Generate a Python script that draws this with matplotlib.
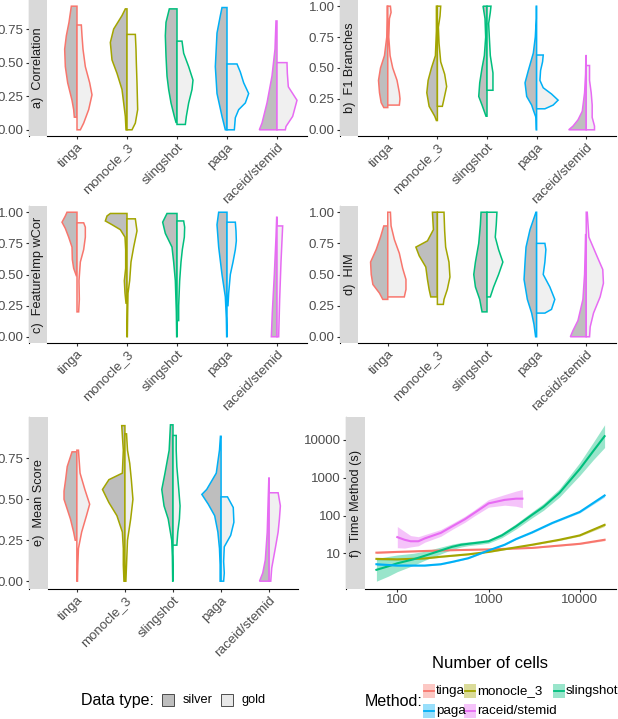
import matplotlib
matplotlib.use("Agg")
import matplotlib.pyplot as plt
import numpy as np
from matplotlib.patches import Rectangle
from matplotlib.lines import Line2D

plt.rcParams['font.family'] = ['Liberation Sans', 'DejaVu Sans']

W, H = 618, 719

methods = ['tinga', 'monocle_3', 'slingshot', 'paga', 'raceid/stemid']
colors = ['#F8766D', '#A3A500', '#00BF7D', '#00B0F6', '#E76BF3']
SILVER_FILL = '#BEBEBE'
GOLD_FILL = '#F0F0F0'

# Violin half profiles: (y values, half-widths in 1/150 of a category)
CORR_SILVER = [
    ([0.094, 0.15, 0.22, 0.35, 0.47, 0.6, 0.7, 0.8, 0.92], [8, 10, 15, 28, 35, 37, 32, 24, 17]),
    ([0, 0.1, 0.2, 0.3, 0.42, 0.52, 0.65, 0.75, 0.85, 0.9], [3, 5, 10, 15, 30, 45, 50, 40, 15, 5]),
    ([0.055, 0.1, 0.2, 0.3, 0.4, 0.55, 0.7, 0.8, 0.9], [3, 8, 18, 25, 30, 33, 35, 33, 23]),
    ([0, 0.1, 0.27, 0.47, 0.72, 0.85, 0.91], [5, 15, 30, 35, 30, 20, 15]),
    ([0, 0.05, 0.2, 0.4, 0.6, 0.81], [53, 45, 30, 15, 6, 3]),
]
CORR_GOLD = [
    ([0, 0.05, 0.15, 0.26, 0.35, 0.47, 0.6, 0.7, 0.78], [10, 20, 35, 45, 38, 25, 18, 15, 13]),
    ([0, 0.05, 0.15, 0.35, 0.5, 0.6, 0.71], [15, 25, 32, 30, 28, 27, 25]),
    ([0.04, 0.1, 0.2, 0.3, 0.37, 0.47, 0.57, 0.66], [25, 28, 35, 45, 48, 35, 20, 15]),
    ([0, 0.09, 0.15, 0.2, 0.27, 0.35, 0.43, 0.49], [22, 25, 35, 55, 65, 50, 40, 30]),
    ([0, 0.025, 0.1, 0.22, 0.32, 0.42, 0.5], [25, 27, 47, 60, 34, 31, 30]),
]
F1_SILVER = [
    ([0.18, 0.22, 0.3, 0.4, 0.5, 0.6, 0.75, 0.9, 1.0], [12, 20, 25, 28, 22, 10, 3, 2, 2]),
    ([0.075, 0.11, 0.19, 0.3, 0.4, 0.5, 0.6, 0.8, 1.0], [3, 8, 25, 32, 28, 18, 6, 3, 3]),
    ([0.11, 0.2, 0.27, 0.38, 0.5, 0.6, 0.75, 0.9, 1.0], [3, 15, 25, 22, 15, 8, 4, 6, 12]),
    ([0, 0.1, 0.16, 0.2, 0.27, 0.38, 0.48, 0.62, 0.75, 0.9, 1.0], [1, 2, 10, 15, 30, 35, 25, 10, 4, 1, 1]),
    ([0, 0.03, 0.08, 0.15, 0.3, 0.45, 0.6], [53, 40, 25, 12, 5, 2, 1]),
]
F1_GOLD = [
    ([0.2, 0.25, 0.3, 0.4, 0.5, 0.6, 0.75, 0.9, 0.95, 1.0], [35, 37, 35, 28, 15, 7, 3, 5, 10, 8]),
    ([0.19, 0.25, 0.35, 0.45, 0.55, 0.7, 0.83, 0.92, 1.0], [15, 20, 28, 22, 10, 5, 3, 8, 10]),
    ([0.32, 0.38, 0.46, 0.6, 0.75, 0.86, 0.95, 1.0], [18, 18, 18, 10, 7, 5, 10, 12]),
    ([0.17, 0.2, 0.24, 0.29, 0.34, 0.4, 0.48, 0.55, 0.605], [25, 50, 65, 45, 20, 10, 12, 18, 20]),
    ([0, 0.03, 0.1, 0.2, 0.3, 0.4, 0.52], [25, 25, 18, 18, 15, 10, 10]),
]
FI_SILVER = [
    ([0.49, 0.55, 0.62, 0.72, 0.8, 0.87, 0.92, 0.97, 1.0], [2, 10, 14, 15, 25, 35, 45, 35, 30]),
    ([0.27, 0.35, 0.45, 0.55, 0.7, 0.8, 0.86, 0.9, 0.93, 0.97, 0.99], [3, 6, 8, 4, 4, 6, 20, 45, 65, 60, 50]),
    ([0, 0.2, 0.45, 0.6, 0.72, 0.83, 0.92, 0.99], [1, 2, 5, 10, 15, 35, 43, 30]),
    ([0, 0.15, 0.32, 0.5, 0.72, 0.9, 1.0], [1, 2, 5, 15, 25, 30, 25]),
    ([0, 0.2, 0.5, 0.8, 0.96], [17, 14, 8, 3, 1]),
]
FI_GOLD = [
    ([0.2, 0.3, 0.45, 0.6, 0.7, 0.8, 0.88, 0.915], [5, 7, 6, 10, 20, 25, 25, 20]),
    ([0, 0.2, 0.35, 0.45, 0.6, 0.72, 0.85, 0.947], [1, 2, 3, 8, 12, 20, 30, 25]),
    ([0.13, 0.25, 0.45, 0.6, 0.7, 0.8, 0.88, 0.93], [5, 5, 8, 12, 16, 22, 23, 20]),
    ([0.25, 0.35, 0.5, 0.6, 0.7, 0.77, 0.85, 0.92], [3, 5, 10, 18, 25, 28, 27, 25]),
    ([0, 0.3, 0.6, 0.89], [5, 8, 12, 17]),
]
HIM_SILVER = [
    ([0.3, 0.35, 0.42, 0.5, 0.6, 0.7, 0.8, 0.89], [15, 25, 45, 50, 52, 35, 22, 12]),
    ([0.32, 0.38, 0.46, 0.56, 0.65, 0.72, 0.77, 0.86, 1.0], [20, 25, 30, 35, 55, 65, 30, 12, 15]),
    ([0.2, 0.3, 0.4, 0.5, 0.6, 0.75, 0.9, 1.0], [15, 22, 35, 40, 35, 25, 20, 18]),
    ([0, 0.1, 0.19, 0.3, 0.46, 0.6, 0.72, 0.86, 1.0], [3, 8, 15, 28, 38, 35, 32, 20, 2]),
    ([0, 0.05, 0.13, 0.3, 0.5, 0.7, 0.82], [48, 40, 25, 10, 5, 3, 2]),
]
HIM_GOLD = [
    ([0.32, 0.38, 0.46, 0.55, 0.67, 0.78, 0.89, 1.0], [50, 55, 55, 45, 35, 20, 10, 8]),
    ([0.26, 0.3, 0.38, 0.48, 0.6, 0.72, 0.85, 1.0], [18, 20, 30, 38, 35, 25, 22, 20]),
    ([0.32, 0.4, 0.5, 0.6, 0.7, 0.8, 0.9, 1.0], [10, 20, 35, 48, 35, 25, 28, 30]),
    ([0.19, 0.22, 0.3, 0.4, 0.5, 0.6, 0.7, 0.75], [25, 45, 55, 40, 20, 25, 28, 25]),
    ([0, 0.08, 0.19, 0.32, 0.43, 0.54, 0.65, 0.8, 1.0], [10, 12, 22, 42, 52, 50, 32, 8, 3]),
]
MEAN_SILVER = [
    ([0.25, 0.3, 0.38, 0.44, 0.5, 0.55, 0.62, 0.7, 0.79], [5, 10, 20, 30, 40, 40, 35, 30, 15]),
    ([0, 0.1, 0.2, 0.3, 0.4, 0.48, 0.56, 0.62, 0.66, 0.8, 0.95], [3, 5, 5, 8, 25, 50, 70, 50, 8, 5, 10]),
    ([0, 0.15, 0.25, 0.38, 0.46, 0.56, 0.66, 0.8, 0.955], [1, 2, 4, 15, 28, 35, 25, 12, 8]),
    ([0, 0.1, 0.2, 0.3, 0.4, 0.47, 0.53, 0.56, 0.66, 0.8, 0.885], [3, 3, 5, 10, 20, 40, 60, 45, 15, 5, 2]),
    ([0, 0.05, 0.13, 0.3, 0.5, 0.63], [30, 20, 12, 6, 3, 1]),
]
MEAN_GOLD = [
    ([0, 0.1, 0.2, 0.3, 0.4, 0.47, 0.56, 0.66, 0.8], [2, 3, 5, 15, 30, 40, 25, 10, 5]),
    ([0, 0.1, 0.25, 0.38, 0.5, 0.62, 0.72, 0.8, 0.9], [3, 5, 8, 18, 25, 20, 15, 8, 5]),
    ([0.22, 0.3, 0.38, 0.46, 0.56, 0.7, 0.8, 0.89], [12, 15, 20, 22, 18, 12, 10, 10]),
    ([0, 0.05, 0.12, 0.21, 0.28, 0.36, 0.45, 0.515], [8, 10, 8, 10, 30, 40, 38, 20]),
    ([0, 0.08, 0.21, 0.3, 0.38, 0.46, 0.54], [5, 8, 20, 28, 32, 35, 28]),
]

# Time panel: smoothed curves (cells, seconds) and ribbon half-width (log10 units)
TIME_X = {
    'tinga': [59, 100, 300, 1000, 3000, 10000, 18700],
    'monocle_3': [59, 100, 200, 300, 600, 1000, 2000, 3000, 6000, 10000, 18700],
    'slingshot': [59, 80, 100, 150, 200, 300, 400, 500, 600, 800, 1000, 1400, 2000, 3000,
                  4000, 6000, 10000, 14000, 18700],
    'paga': [59, 100, 200, 300, 400, 600, 1000, 1500, 2000, 3000, 5000, 10000, 18700],
    'raceid/stemid': [100, 120, 140, 170, 200, 300, 400, 550, 700, 1000, 1500, 2000, 2350],
}
TIME_Y = {
    'tinga': [10.5, 11, 12, 12.8, 14, 18, 23],
    'monocle_3': [7.2, 7, 7.4, 8.2, 9.5, 11, 14.5, 17, 23, 30, 57],
    'slingshot': [3.7, 4.6, 5.5, 7, 8.7, 12, 15, 17, 18, 19.5, 21, 30, 52, 105,
                  170, 400, 1700, 5000, 12500],
    'paga': [5.2, 4.8, 4.8, 5.2, 6, 7.5, 12, 17, 24, 36, 64, 125, 340],
    'raceid/stemid': [27, 23, 21, 21, 25, 35, 52, 80, 118, 210, 260, 280, 280],
}
TIME_SE = {
    'tinga': [0.02, 0.015, 0.01, 0.01, 0.01, 0.015, 0.025],
    'monocle_3': [0.03, 0.02, 0.015, 0.015, 0.015, 0.015, 0.015, 0.015, 0.02, 0.02, 0.04],
    'slingshot': [0.3, 0.26, 0.22, 0.16, 0.12, 0.09, 0.07, 0.06, 0.05, 0.05, 0.05, 0.06,
                  0.07, 0.08, 0.09, 0.11, 0.17, 0.23, 0.3],
    'paga': [0.03, 0.02, 0.015, 0.015, 0.015, 0.015, 0.015, 0.015, 0.015, 0.02, 0.02,
             0.025, 0.04],
    'raceid/stemid': [0.28, 0.22, 0.15, 0.12, 0.1, 0.09, 0.08, 0.08, 0.08, 0.1, 0.14,
                      0.2, 0.24],
}

WSCALE = 1 / 150.0
TICK_COLOR = '#4D4D4D'


def fig_rect(l, t, r, b):
    return [l / W, 1 - b / H, (r - l) / W, (b - t) / H]


def fig_xy(x, y):
    return x / W, 1 - y / H


fig = plt.figure(figsize=(W / 100, H / 100), dpi=100)


def strip(l, t, r, b, label):
    fig.patches.append(Rectangle((l / W, 1 - b / H), (r - l) / W, (b - t) / H,
                                 transform=fig.transFigure, facecolor='#D9D9D9',
                                 edgecolor='none', zorder=0))
    fig.text((l + r) / 2 / W + 0.5 / W, 1 - (t + b) / 2 / H, label, rotation=90,
             ha='center', va='center', fontsize=9.2, color='#1A1A1A')


def style_axes(ax, strip_px):
    for s in ['top', 'right']:
        ax.spines[s].set_visible(False)
    ax.spines['left'].set_position(('outward', strip_px * 72 / 100))
    for s in ['left', 'bottom']:
        ax.spines[s].set_linewidth(0.8)
    ax.tick_params(axis='both', length=2.2, width=0.8, color='#333333',
                   labelcolor=TICK_COLOR, labelsize=9.6, pad=1.5)


def violin_panel(box, strip_px, label, silver, gold, yticks):
    l, t, r, b = box
    ax = fig.add_axes(fig_rect(l, t, r, b))
    allv = [v for prof in silver + gold for v in prof[0]]
    lo, hi = min(allv), max(allv)
    pad = 0.05 * (hi - lo)
    ax.set_ylim(lo - pad, hi + pad)
    ax.set_xlim(-0.6, 4.6)
    for i, col in enumerate(colors):
        for prof, sign, fc in ((silver[i], -1, SILVER_FILL), (gold[i], 1, GOLD_FILL)):
            ys = np.array(prof[0], dtype=float)
            ws = np.array(prof[1], dtype=float) * WSCALE
            xs = np.concatenate([[i], i + sign * ws, [i]])
            yy = np.concatenate([[ys[0]], ys, [ys[-1]]])
            ax.fill(xs, yy, facecolor=fc, edgecolor=col, linewidth=1.1, zorder=2)
    ax.set_xticks(range(len(methods)))
    ax.set_xticklabels(methods, rotation=45, ha='right', va='top',
                       rotation_mode='anchor')
    ax.set_yticks(yticks)
    ax.set_yticklabels(['%.2f' % v for v in yticks])
    style_axes(ax, strip_px)
    strip(l - strip_px, t, l, b, label)
    return ax


yt = [0, 0.25, 0.5, 0.75]
yt1 = [0, 0.25, 0.5, 0.75, 1.0]
violin_panel((47, 0, 307, 136), 18, 'a)  Correlation', CORR_SILVER, CORR_GOLD, yt)
violin_panel((358, 0, 616, 136), 18, 'b)  F1 Branches', F1_SILVER, F1_GOLD, yt1)
violin_panel((47, 206, 307, 343), 18, 'c)  FeatureImp wCor', FI_SILVER, FI_GOLD, yt1)
violin_panel((358, 206, 616, 343), 18, 'd)  HIM', HIM_SILVER, HIM_GOLD, yt1)
violin_panel((48, 417, 298, 589), 19, 'e)  Mean Score', MEAN_SILVER, MEAN_GOLD, yt)

# Panel f
l, t, r, b = 365, 417, 616, 589
axf = fig.add_axes(fig_rect(l, t, r, b))
axf.set_xscale('log')
axf.set_yscale('log')
allx = [v for m in methods for v in TIME_X[m]]
lx0, lx1 = np.log10(min(allx)), np.log10(max(allx))
px = 0.05 * (lx1 - lx0)
axf.set_xlim(10 ** (lx0 - px), 10 ** (lx1 + px))
ylo = min(np.log10(TIME_Y[m][k]) - TIME_SE[m][k] for m in methods for k in range(len(TIME_Y[m])))
yhi = max(np.log10(TIME_Y[m][k]) + TIME_SE[m][k] for m in methods for k in range(len(TIME_Y[m])))
py = 0.05 * (yhi - ylo)
axf.set_ylim(10 ** (ylo - py), 10 ** (yhi + py))
for m, col in zip(methods, colors):
    xs = np.array(TIME_X[m], dtype=float)
    ly = np.log10(np.array(TIME_Y[m], dtype=float))
    se = np.array(TIME_SE[m])
    axf.fill_between(xs, 10 ** (ly - se), 10 ** (ly + se), color=col, alpha=0.4,
                     linewidth=0, zorder=1)
    axf.plot(xs, 10 ** ly, color=col, linewidth=1.5, zorder=2, solid_joinstyle='round')
axf.set_xticks([100, 1000, 10000])
axf.set_xticklabels(['100', '1000', '10000'])
axf.set_yticks([10, 100, 1000, 10000])
axf.set_yticklabels(['10', '100', '1000', '10000'])
axf.minorticks_off()
style_axes(axf, 19)
strip(l - 19, t, l, b, 'f)  Time Method (s)')

fig.text(490 / W, 1 - 663 / H, 'Number of cells', ha='center', va='center', fontsize=12)

# Data type legend
fig.text(*fig_xy(81, 700), 'Data type:', ha='left', va='center', fontsize=11.5)
for (x0, lab, fc) in ((162, 'silver', SILVER_FILL), (221, 'gold', '#E8E8E8')):
    fig.patches.append(Rectangle(fig_xy(x0, 706), 12 / W, 12 / H, transform=fig.transFigure,
                                 facecolor=fc, edgecolor='#333333', linewidth=0.6))
    fig.text(*fig_xy(x0 + 21, 700), lab, ha='left', va='center', fontsize=9.2)

# Method legend
fig.text(*fig_xy(365, 702), 'Method:', ha='left', va='center', fontsize=11.5)
key_pos = [(423, 691), (464, 691), (553, 691), (423, 711), (464, 711)]
for (kx, ky), m, col in zip(key_pos, methods, colors):
    fig.patches.append(Rectangle(fig_xy(kx, ky + 7), 12 / W, 14 / H, transform=fig.transFigure,
                                 facecolor=col, alpha=0.4, edgecolor='none'))
    x0, y0 = fig_xy(kx + 1, ky)
    x1, _ = fig_xy(kx + 11, ky)
    fig.lines.append(Line2D([x0, x1], [y0, y0], transform=fig.transFigure, color=col,
                            linewidth=1.3))
    fig.text(*fig_xy(kx + 13, ky), m, ha='left', va='center', fontsize=9.6)

fig.savefig('out.png', dpi=100, facecolor='white')
